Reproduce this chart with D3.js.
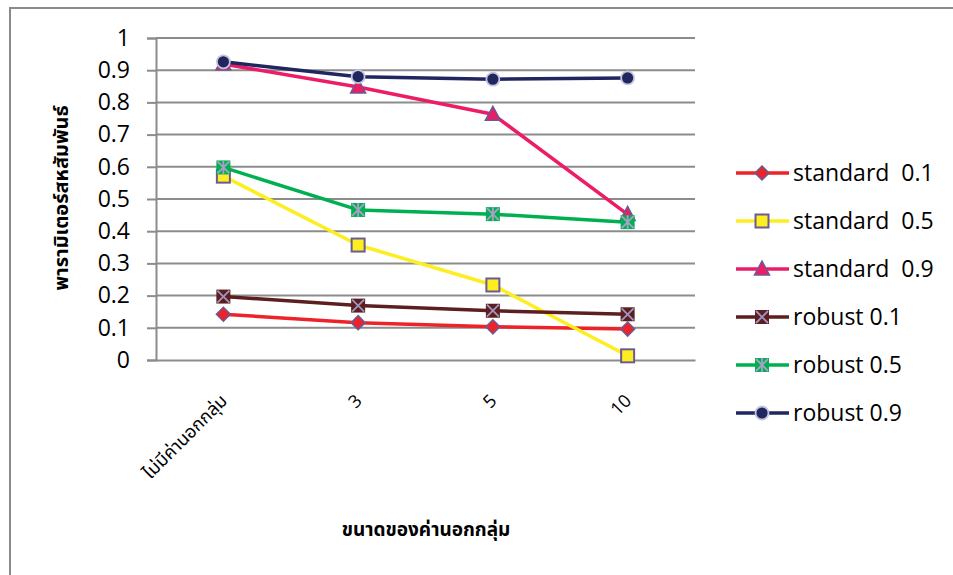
<!DOCTYPE html>
<html>
<head>
<meta charset="utf-8">
<script src="https://cdn.jsdelivr.net/npm/d3@7"></script>
<style>
  html, body { margin: 0; padding: 0; background: #fff; }
  svg { display: block; }
  text { font-family: "Open Sans", "Noto Sans", "Noto Sans Thai", sans-serif; fill: #000; }
</style>
</head>
<body>
<svg id="chart" width="953" height="575"></svg>
<script>
// Outlier-size categories along the x axis
const categories = ["ไม่มีค่านอกกลุ่ม", "3", "5", "10"];
const yTicks = [0, 0.1, 0.2, 0.3, 0.4, 0.5, 0.6, 0.7, 0.8, 0.9, 1];

// Estimated correlation parameter for each method / true value
const standard01 = [0.142, 0.116, 0.103, 0.096];
const standard05 = [0.571, 0.357, 0.233, 0.013];
const standard09 = [0.919, 0.848, 0.763, 0.452];
const robust01   = [0.197, 0.169, 0.153, 0.142];
const robust05   = [0.598, 0.466, 0.453, 0.428];
const robust09   = [0.926, 0.880, 0.872, 0.876];

const seriesNames  = ["standard  0.1", "standard  0.5", "standard  0.9", "robust 0.1", "robust 0.5", "robust 0.9"];
const seriesColors = ["#ee2229", "#fcee21", "#ec1c67", "#5c1f1f", "#00b050", "#1f2660"];
const seriesMarks  = ["diamond", "square", "triangle", "xsquare", "starsquare", "circle"];

const series = [standard01, standard05, standard09, robust01, robust05, robust09].map((values, i) => ({
  name: seriesNames[i], color: seriesColors[i], mark: seriesMarks[i], values
}));

const svg = d3.select("#chart");
const outline = "#6b5b95";

// outer frame
svg.append("path")
  .attr("d", "M10,580 L10,8 L960,8")
  .attr("fill", "none").attr("stroke", "#8a8a8a").attr("stroke-width", 2);

const x = d3.scaleBand().domain(categories).range([156, 695]);
const y = d3.scaleLinear().domain([0, 1]).range([360, 38]);

// horizontal gridlines
svg.append("g").selectAll("line").data(yTicks.filter(d => d > 0)).join("line")
  .attr("x1", 156).attr("x2", 695)
  .attr("y1", d => y(d)).attr("y2", d => y(d))
  .attr("stroke", "#8c8c8c").attr("stroke-width", 2);

// y axis
const yAxis = svg.append("g").attr("transform", "translate(156,0)")
  .call(d3.axisLeft(y).tickValues(yTicks).tickSize(9).tickPadding(17).tickFormat(d3.format("")));
yAxis.select(".domain").attr("stroke", "#8c8c8c").attr("stroke-width", 2);
yAxis.selectAll(".tick line").attr("stroke", "#8c8c8c").attr("stroke-width", 2);
yAxis.selectAll(".tick text").attr("font-size", 23).attr("font-family", "'Open Sans', sans-serif").attr("fill", "#000");

// x axis (baseline at zero)
const xAxis = svg.append("g").attr("transform", `translate(0,${y(0)})`)
  .call(d3.axisBottom(x).tickSize(0).tickPadding(0));
xAxis.select(".domain").attr("stroke", "#8c8c8c").attr("stroke-width", 2);
xAxis.selectAll(".tick text")
  .attr("font-size", 18)
  .attr("text-anchor", "end")
  .attr("dy", 0)
  .attr("transform", "translate(5,42) rotate(-45)")
  .attr("fill", "#000");

// axis titles
svg.append("text")
  .attr("transform", "translate(68,198) rotate(-90)")
  .attr("text-anchor", "middle")
  .attr("font-size", 20).attr("font-weight", "bold")
  .text("พารามิเตอร์สหสัมพันธ์");

svg.append("text")
  .attr("x", 426).attr("y", 536)
  .attr("text-anchor", "middle")
  .attr("font-size", 19).attr("font-weight", "bold")
  .text("ขนาดของค่านอกกลุ่ม");

// marker drawing
function drawMark(g, type, color) {
  switch (type) {
    case "diamond":
      g.append("path").attr("d", "M0,-7 L7,0 L0,7 L-7,0 Z")
        .attr("fill", color).attr("stroke", outline).attr("stroke-width", 1.5);
      break;
    case "square":
      g.append("rect").attr("x", -6.5).attr("y", -6.5).attr("width", 13).attr("height", 13)
        .attr("fill", color).attr("stroke", outline).attr("stroke-width", 2);
      break;
    case "triangle":
      g.append("path").attr("d", "M0,-8 L7.5,6 L-7.5,6 Z")
        .attr("fill", color).attr("stroke", outline).attr("stroke-width", 1.5);
      break;
    case "xsquare":
      g.append("rect").attr("x", -7).attr("y", -7).attr("width", 14).attr("height", 14).attr("fill", color);
      g.append("path").attr("d", "M-6,-6 L6,6 M6,-6 L-6,6")
        .attr("stroke", "#a393c0").attr("stroke-width", 1.8);
      break;
    case "starsquare":
      g.append("rect").attr("x", -7).attr("y", -7).attr("width", 14).attr("height", 14).attr("fill", color);
      g.append("path").attr("d", "M-6,-6 L6,6 M6,-6 L-6,6 M0,-7 L0,7")
        .attr("stroke", "#a8a0c8").attr("stroke-width", 1.8);
      break;
    case "circle":
      g.append("circle").attr("r", 6.5)
        .attr("fill", color).attr("stroke", "#c8c4dc").attr("stroke-width", 1.8);
      break;
  }
}

const cx = d => x(d) + x.bandwidth() / 2;
const line = d3.line().x((v, i) => cx(categories[i])).y(v => y(v));

const plot = svg.append("g");
series.forEach(s => {
  plot.append("path").datum(s.values)
    .attr("d", line)
    .attr("fill", "none").attr("stroke", s.color).attr("stroke-width", 3.5)
    .attr("stroke-linejoin", "round");
});
series.forEach(s => {
  s.values.forEach((v, i) => {
    const g = plot.append("g").attr("transform", `translate(${cx(categories[i])},${y(v)})`);
    drawMark(g, s.mark, s.color);
  });
});

// legend
const legend = svg.append("g");
series.forEach((s, i) => {
  const ly = 173 + i * 48;
  const row = legend.append("g").attr("transform", `translate(0,${ly})`);
  row.append("line").attr("x1", 736).attr("x2", 789).attr("y1", 0).attr("y2", 0)
    .attr("stroke", s.color).attr("stroke-width", 3.5);
  drawMark(row.append("g").attr("transform", "translate(762,0)"), s.mark, s.color);
  row.append("text").attr("x", 793).attr("y", 0).attr("dy", "0.35em")
    .attr("font-size", 23).attr("xml:space", "preserve")
    .style("white-space", "pre")
    .text(s.name);
});
</script>
</body>
</html>
